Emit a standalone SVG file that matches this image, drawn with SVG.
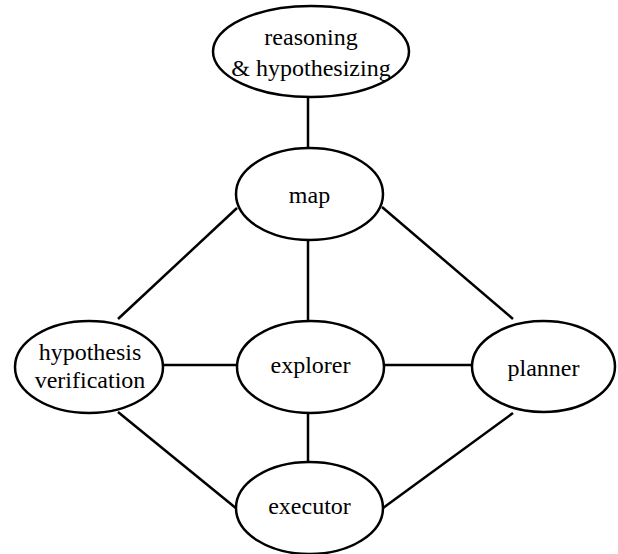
<svg xmlns="http://www.w3.org/2000/svg" width="618" height="554" viewBox="0 0 618 554">
<style>
.n ellipse{fill:#fff;stroke:#000;stroke-width:2.5}
.e line{stroke:#000;stroke-width:2.5}
.t{font-family:"Liberation Serif","Times New Roman",serif;font-size:24px;text-anchor:middle;fill:#000}
</style>
<rect width="618" height="554" fill="#fff"/>
<g class="e" id="connectors">
<line x1="308" y1="97" x2="308" y2="148"/>
<line x1="308" y1="240" x2="308" y2="321"/>
<line x1="237" y1="208" x2="118" y2="319"/>
<line x1="382" y1="207" x2="513" y2="319"/>
<line x1="163" y1="365" x2="237" y2="365"/>
<line x1="384" y1="365" x2="472" y2="365"/>
<line x1="308" y1="413" x2="308" y2="462"/>
<line x1="118" y1="412" x2="237" y2="509"/>
<line x1="513" y1="413" x2="383" y2="508"/>
</g>
<g class="n" id="reasoning">
<ellipse cx="311" cy="51.5" rx="98" ry="45.5"/>
<text class="t" x="311" y="45">reasoning</text>
<text class="t" x="311" y="76">&amp; hypothesizing</text>
</g>
<g class="n" id="map">
<ellipse cx="309.5" cy="194" rx="73.5" ry="46"/>
<text class="t" x="309.5" y="203">map</text>
</g>
<g class="n" id="hypothesis">
<ellipse cx="89" cy="367" rx="74" ry="46"/>
<text class="t" x="90" y="360">hypothesis</text>
<text class="t" x="90" y="388">verification</text>
</g>
<g class="n" id="explorer">
<ellipse cx="310.5" cy="367" rx="73.5" ry="46"/>
<text class="t" x="310.5" y="373">explorer</text>
</g>
<g class="n" id="planner">
<ellipse cx="543.5" cy="366.5" rx="71.5" ry="45.5"/>
<text class="t" x="543.5" y="376">planner</text>
</g>
<g class="n" id="executor">
<ellipse cx="309.5" cy="508" rx="73.5" ry="46"/>
<text class="t" x="309.5" y="514">executor</text>
</g>
</svg>
